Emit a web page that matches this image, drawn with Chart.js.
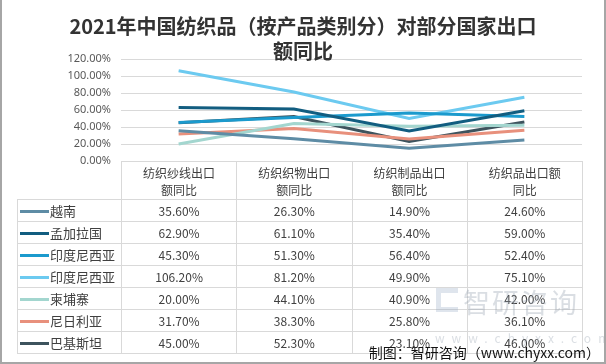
<!DOCTYPE html>
<html>
<head>
<meta charset="utf-8">
<script src="https://cdn.jsdelivr.net/npm/chart.js@4"></script>
<style>
    body { margin: 0; background: #fff; }
    #wrap {
        position: relative;
        width: 606px;
        height: 364px;
        box-sizing: border-box;
        border-left: 2px solid #a6a6a6;
        border-right: 2px solid #a6a6a6;
        border-bottom: 2px solid #a6a6a6;
        overflow: hidden;
        font-family: "Noto Sans CJK SC", "Noto Sans", sans-serif;
    }
    #chart { position: absolute; left: -2px; top: 0; }
    #title {
        position: absolute;
        left: 0; right: 0; top: 13px;
        text-align: center;
        font-size: 20px;
        font-weight: bold;
        line-height: 25px;
        color: #333;
    }
    #tbl {
        position: absolute;
        border-collapse: collapse;
        table-layout: fixed;
        font-size: 12px;
        color: #404040;
    }
    #tbl td {
        border: 1px solid #d9d9d9;
        padding: 0;
        text-align: center;
        white-space: nowrap;
        overflow: hidden;
    }
    #tbl tr.head td { height: 37px; line-height: 17px; white-space: normal; }
    #tbl tr.head td.blank { border-top: none; border-left: none; }
    #tbl tr.row td { height: 21px; line-height: 21px; }
    #tbl td.name { text-align: left; font-size: 13px; }
    .key {
        display: inline-block;
        width: 29px;
        height: 3px;
        margin: 0 1px 0 2px;
        vertical-align: middle;
        position: relative;
        top: -1px;
    }
    #markIcon {
        position: absolute;
        left: 434px; top: 288px;
        width: 22px; height: 24px;
        border: 5px solid rgba(150, 170, 195, 0.3);
        border-right-width: 0;
        box-sizing: border-box;
    }
    #mark {
        position: absolute;
        left: 461px; top: 282px;
        font-size: 27px;
        letter-spacing: 2px;
        white-space: nowrap;
        color: rgba(150, 160, 175, 0.35);
    }
    #markUrl {
        position: absolute;
        left: 433px; top: 329px;
        font-size: 12px;
        letter-spacing: 7px;
        white-space: nowrap;
        color: rgba(150, 160, 175, 0.35);
    }
    #source {
        position: absolute;
        right: 4px; top: 343px;
        font-size: 14px;
        line-height: 18px;
        white-space: nowrap;
        color: #111;
    }
</style>
</head>
<body>
<div id="wrap">
    <canvas id="chart" width="606" height="364"></canvas>
    <div id="title">2021年中国纺织品（按产品类别分）对部分国家出口<br>额同比</div>
    <table id="tbl"></table>
    <div id="markIcon"></div>
    <div id="mark">智研咨询</div>
    <div id="markUrl">www.chyxx.com</div>
    <div id="source">制图：智研咨询（www.chyxx.com）</div>
</div>
<script>
// categories (table header, two lines each)
const categories = ['纺织纱线出口额同比', '纺织织物出口额同比', '纺织制品出口额同比', '纺织品出口额同比'];
const headerLines = [
    ['纺织纱线出口', '额同比'],
    ['纺织织物出口', '额同比'],
    ['纺织制品出口', '额同比'],
    ['纺织品出口额', '同比']
];

// series values (%)
const vietnam = [35.6, 26.3, 14.9, 24.6];
const bangladesh = [62.9, 61.1, 35.4, 59.0];
const indonesia1 = [45.3, 51.3, 56.4, 52.4];
const indonesia2 = [106.2, 81.2, 49.9, 75.1];
const cambodia = [20.0, 44.1, 40.9, 42.0];
const nigeria = [31.7, 38.3, 25.8, 36.1];
const pakistan = [45.0, 52.3, 23.1, 46.0];

const seriesNames = ['越南', '孟加拉国', '印度尼西亚', '印度尼西亚', '柬埔寨', '尼日利亚', '巴基斯坦'];
const seriesValues = [vietnam, bangladesh, indonesia1, indonesia2, cambodia, nigeria, pakistan];
const seriesColors = ['#5e8ca5', '#125d80', '#1b9acd', '#6ccaf0', '#a3d6cf', '#e8907c', '#3d535d'];

// y axis ticks
const yTicks = [0, 20, 40, 60, 80, 100, 120];

const datasets = seriesNames.map((name, i) => ({
    label: name,
    data: seriesValues[i],
    borderColor: seriesColors[i],
    backgroundColor: seriesColors[i],
    borderWidth: 3,
    pointRadius: 0,
    tension: 0
}));

const chart = new Chart(document.getElementById('chart'), {
    type: 'line',
    data: { labels: categories, datasets: datasets },
    options: {
        responsive: false,
        animation: false,
        layout: { padding: { top: 59, right: 24, bottom: 203, left: 0 } },
        plugins: {
            legend: { display: false },
            title: { display: false },
            tooltip: { enabled: false }
        },
        scales: {
            x: {
                display: false,
                offset: true
            },
            y: {
                min: 0,
                max: 120,
                afterFit: s => { s.width = 121; },
                afterBuildTicks: s => { s.ticks = yTicks.map(v => ({ value: v })); },
                border: { display: false },
                grid: { color: '#d9d9d9', drawTicks: false },
                ticks: {
                    padding: 10,
                    color: '#595959',
                    font: { family: 'Noto Sans', size: 11 },
                    callback: v => v.toFixed(2) + '%'
                }
            }
        }
    }
});

// build the data table under the plot, lined up with the chart columns
const area = chart.chartArea;
const tableLeft = 17;
const colW = (area.right - area.left) / categories.length;
const tbl = document.getElementById('tbl');
tbl.style.left = (tableLeft - 2) + 'px';
tbl.style.top = area.bottom + 'px';

let html = '<colgroup><col style="width:' + (area.left - tableLeft) + 'px">';
categories.forEach(() => { html += '<col style="width:' + colW + 'px">'; });
html += '</colgroup>';

html += '<tr class="head"><td class="blank"></td>';
headerLines.forEach(lines => { html += '<td>' + lines.join('<br>') + '</td>'; });
html += '</tr>';

seriesNames.forEach((name, i) => {
    html += '<tr class="row"><td class="name"><span class="key" style="background:' + seriesColors[i] + '"></span>' + name + '</td>';
    seriesValues[i].forEach(v => { html += '<td>' + v.toFixed(2) + '%</td>'; });
    html += '</tr>';
});
tbl.innerHTML = html;
</script>
</body>
</html>
